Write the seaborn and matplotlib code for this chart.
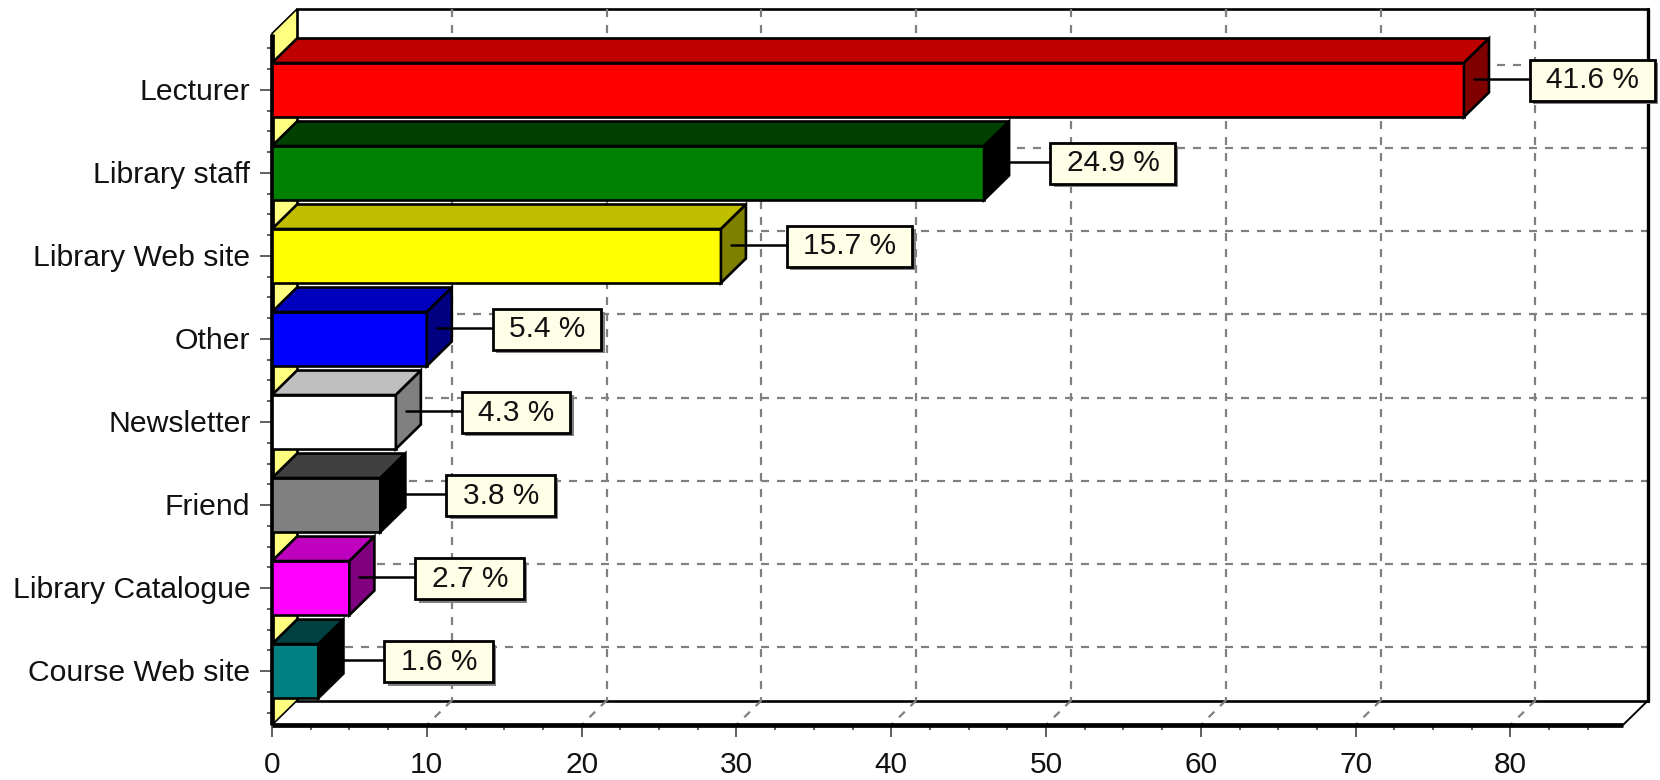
import numpy as np
import matplotlib
matplotlib.use("Agg")
import matplotlib.pyplot as plt
import matplotlib.patheffects as pe
from matplotlib.patches import Polygon, Rectangle
from matplotlib.transforms import ScaledTranslation
import seaborn as sns

# --- data ---
categories = ['Lecturer', 'Library staff', 'Library Web site', 'Other',
              'Newsletter', 'Friend', 'Library Catalogue', 'Course Web site']
counts = [77, 46, 29, 10, 8, 7, 5, 3]
percents = ['41.6 %', '24.9 %', '15.7 %', '5.4 %', '4.3 %', '3.8 %', '2.7 %', '1.6 %']

front_colors = ['#FF0000', '#008000', '#FFFF00', '#0000FF',
                '#FFFFFF', '#808080', '#FF00FF', '#008080']
top_colors = ['#BF0000', '#004000', '#BFBF00', '#0000BF',
              '#BFBFBF', '#404040', '#BF00BF', '#004040']
side_colors = ['#800000', '#000000', '#808000', '#000080',
               '#808080', '#000000', '#800080', '#000000']

# --- layout (pixels of the 1660x780 picture) ---
W, H = 1660, 780
LEFT, RIGHT, TOP, BOTTOM = 272, 1623, 33.5, 725
X_MAX = (RIGHT - LEFT) / 15.48
Y_TOP, Y_BOTTOM = -0.68, 7.65
BAR_W = 0.65

sns.set_theme(style="white")
plt.rcParams['font.family'] = ['Liberation Sans', 'DejaVu Sans']

fig = plt.figure(figsize=(W / 100, H / 100), dpi=100)
ax = fig.add_axes([LEFT / W, 1 - BOTTOM / H, (RIGHT - LEFT) / W, (BOTTOM - TOP) / H])

sns.barplot(x=counts, y=categories, hue=categories, palette=front_colors,
            dodge=False, saturation=1, width=BAR_W, edgecolor='black',
            linewidth=1.9, legend=False, ax=ax, zorder=2)
ax.set_xlim(0, X_MAX)
ax.set_ylim(Y_BOTTOM, Y_TOP)

# pixel -> data conversion
px_x = X_MAX / (RIGHT - LEFT)
px_y = (Y_BOTTOM - Y_TOP) / (BOTTOM - TOP)
DX = 25 * px_x
DY = 24.5 * px_y

# back wall, left wall, floor
ax.add_patch(Rectangle((DX, Y_TOP - DY), X_MAX, Y_BOTTOM - Y_TOP, fc='white', ec='black',
                       lw=1.9, zorder=0, clip_on=False))
ax.add_patch(Polygon([(0, Y_TOP), (DX, Y_TOP - DY), (DX, Y_BOTTOM - DY), (0, Y_BOTTOM)],
                     fc='#FFFF80', ec='black', lw=1.2, zorder=1, clip_on=False))
ax.plot([X_MAX, X_MAX + DX], [Y_BOTTOM, Y_BOTTOM - DY], color='black', lw=1.4, zorder=1, clip_on=False)
ax.plot([X_MAX + DX, X_MAX + DX], [Y_TOP - DY, Y_BOTTOM - DY], color='black', lw=2.4, zorder=1, clip_on=False)

# dashed grid on the wall and floor
grid_style = dict(color='#808080', lw=1.6, dashes=(3.6, 3.6), zorder=0.5, clip_on=False)
for x in np.arange(10, 90, 10):
    ax.plot([x + DX, x + DX], [Y_TOP - DY, Y_BOTTOM - DY], **grid_style)
    ax.plot([x + DX, x], [Y_BOTTOM - DY, Y_BOTTOM], **grid_style)
for i in range(len(categories)):
    ax.plot([DX, X_MAX + DX], [i - DY, i - DY], **grid_style)

# bar depth faces and labels
for i, (val, label) in enumerate(zip(counts, percents)):
    y0, y1 = i - BAR_W / 2, i + BAR_W / 2
    ax.add_patch(Polygon([(0, y0), (DX, y0 - DY), (val + DX, y0 - DY), (val, y0)],
                         fc=top_colors[i], ec='black', lw=1.9, zorder=2, clip_on=False))
    ax.add_patch(Polygon([(val, y0), (val + DX, y0 - DY), (val + DX, y1 - DY), (val, y1)],
                         fc=side_colors[i], ec='black', lw=1.9, zorder=2, clip_on=False))

    box_left = val + 66 * px_x
    box_mid = i - 9.5 * px_y
    ax.plot([val + 10 * px_x, box_left], [i - 11 * px_y] * 2, color='black', lw=1.8,
            zorder=3, clip_on=False)
    txt = ax.text(box_left + 16.5 * px_x, box_mid, label, fontsize=21.5, color='#111111',
                  ha='left', va='center', zorder=6, clip_on=False)
    ext = txt.get_window_extent(fig.canvas.get_renderer())
    box_w = ext.width * px_x + 32 * px_x
    box_h = 41 * px_y
    ax.add_patch(Rectangle((box_left, box_mid - box_h / 2), box_w, box_h, fc='#FFFFE8', ec='black',
                           lw=2, zorder=5, clip_on=False,
                           path_effects=[pe.SimplePatchShadow(offset=(2.5, -2.5), shadow_rgbFace='#808080',
                                                              alpha=1), pe.Normal()]))

# axes
for side in ['top', 'right']:
    ax.spines[side].set_visible(False)
for side in ['left', 'bottom']:
    ax.spines[side].set_linewidth(3.4)
    ax.spines[side].set_color('black')
    ax.spines[side].set_zorder(1.5)
    ax.spines[side].set_capstyle('butt')

ax.set_xticks(np.arange(0, 90, 10))
ax.set_xticks(np.arange(0, 87.5, 2.5), minor=True)
ax.set_yticks(range(len(categories)))
ax.set_yticklabels(categories)
ax.set_yticks(np.arange(-0.5, 7.75, 0.25), minor=True)
ax.tick_params(axis='both', which='major', length=8.5, width=1.2, color='#444444',
               labelsize=21.7, labelcolor='#111111', left=True, bottom=True)
ax.tick_params(axis='x', which='major', pad=10.5, labelsize=21.5)
ax.tick_params(axis='y', which='major', pad=7)
ax.tick_params(axis='both', which='minor', length=3.5, width=1.2, color='#444444', left=True, bottom=True)
ax.set_xlabel('')
ax.set_ylabel('')
ax.patch.set_visible(False)

# tick labels sit a pixel higher in the original
for tick_label in ax.get_yticklabels():
    tick_label.set_transform(tick_label.get_transform() + ScaledTranslation(0, 1 / 100, fig.dpi_scale_trans))

fig.savefig('out.png', dpi=100)
